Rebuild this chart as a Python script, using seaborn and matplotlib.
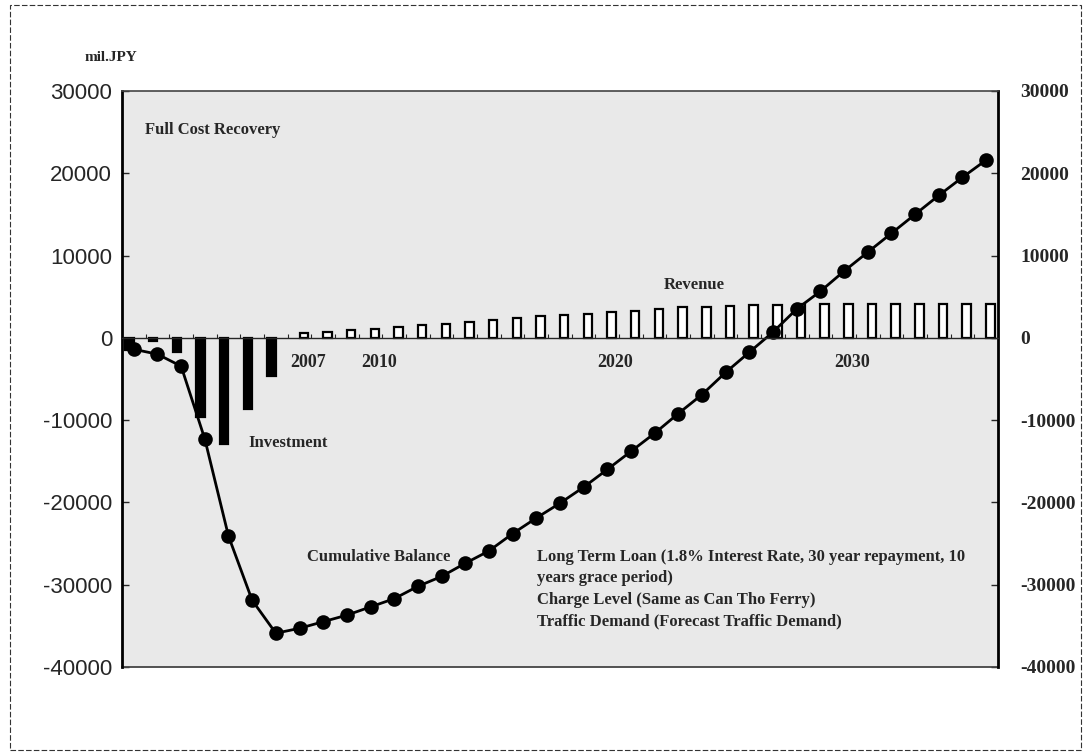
import matplotlib
matplotlib.use("Agg")
import matplotlib.pyplot as plt
import matplotlib.transforms as mtransforms
import numpy as np
import pandas as pd
import seaborn as sns
from matplotlib.patches import Rectangle

# values (mil.JPY)
YEARS = list(range(2000, 2037))
INVESTMENT = [-1500, -400, -1700, -9600, -12900, -8700, -4650]
REVENUE = [600, 750, 900, 1050, 1300, 1550, 1700, 1950, 2200, 2400,
           2600, 2750, 2950, 3100, 3250, 3450, 3700, 3800, 3900, 4000,
           4000, 4100, 4100, 4100, 4100, 4100, 4100, 4100, 4100, 4100]
BALANCE = [-1390, -1990, -3450, -12300, -24100, -31900, -35900, -35300,
           -34500, -33700, -32700, -31700, -30200, -29000, -27400, -25900,
           -23800, -21900, -20100, -18150, -16000, -13800, -11600, -9200,
           -6900, -4200, -1750, 700, 3500, 5650, 8100, 10400, 12700, 15000,
           17300, 19500, 21600]
YEAR_MARKS = ["2007", "2010", "2020", "2030"]
Y_TICKS = [30000, 20000, 10000, 0, -10000, -20000, -30000, -40000]
NOTES = ["Long Term Loan (1.8% Interest Rate, 30 year repayment, 10",
         "years grace period)",
         "Charge Level (Same as Can Tho Ferry)",
         "Traffic Demand (Forecast Traffic Demand)"]

sns.set_style("white")
plt.rcParams["font.family"] = ["Liberation Serif", "DejaVu Serif"]
plt.rcParams["axes.unicode_minus"] = False

labels = [str(y) for y in YEARS]
n_inv = len(INVESTMENT)
bars = pd.DataFrame({
    "year": labels[:n_inv] + labels[n_inv:],
    "series": ["Investment"] * n_inv + ["Revenue"] * len(REVENUE),
    "value": INVESTMENT + REVENUE,
})

fig = plt.figure(figsize=(10.88, 7.55), dpi=100)
ax = fig.add_axes([0.1121, 0.1166, 0.8051, 0.7629])
ax.set_facecolor("#e9e9e9")

sns.barplot(data=bars, x="year", y="value", hue="series", order=labels,
            hue_order=["Investment", "Revenue"], dodge=True,
            palette={"Investment": "black", "Revenue": "white"},
            edgecolor="black", linewidth=1.6, width=0.72, legend=False, ax=ax)
sns.pointplot(x=labels, y=BALANCE, order=labels, color="black", markers="o",
              markersize=9, linewidth=2, errorbar=None, ax=ax)

ax.set_ylim(-40000, 30000)
ax.set_xlim(-0.5, len(YEARS) - 0.5)
ax.set_xlabel("")
ax.set_ylabel("")

# category axis crosses at zero with small boundary ticks
ax.spines["bottom"].set_position(("data", 0))
ax.spines["bottom"].set_linewidth(1.0)
ax.set_xticks(np.arange(len(YEARS) - 1) + 0.5)
ax.set_xticklabels([])
ax.tick_params(axis="x", direction="in", length=3, width=0.8, bottom=True)
ax.plot([0, 1], [0, 0], transform=ax.transAxes, color="#444444", lw=1.3,
        clip_on=False)

for side in ["left", "right"]:
    ax.spines[side].set_linewidth(2.0)
    ax.spines[side].set_color("black")
ax.spines["top"].set_linewidth(1.2)
ax.spines["top"].set_color("#444444")

ax.set_yticks(Y_TICKS)
ax.tick_params(axis="y", direction="in", length=5, width=1, left=True,
               right=True, labelright=True, pad=7)
right_shift = mtransforms.ScaledTranslation(16 / 72, 0, fig.dpi_scale_trans)
for tick in ax.yaxis.get_major_ticks():
    tick.label1.set_fontfamily(["Liberation Sans", "DejaVu Sans"])
    tick.label1.set_fontsize(16)
    tick.label2.set_fontfamily(["Liberation Serif", "DejaVu Serif"])
    tick.label2.set_fontsize(14)
    tick.label2.set_fontweight("bold")
    tick.label2.set_transform(ax.get_yaxis_transform() + right_shift)

for mark in YEAR_MARKS:
    ax.text(labels.index(mark) + 0.35, -3000, mark, ha="center", va="center",
            fontsize=13, fontweight="bold")

txt = dict(fontsize=12, fontweight="bold", transform=ax.transAxes)
ax.text(0.026, 0.932, "Full Cost Recovery", va="center", **txt)
ax.text(0.618, 0.663, "Revenue", va="center", **txt)
ax.text(0.144, 0.389, "Investment", va="center", **txt)
ax.text(0.211, 0.191, "Cumulative Balance", va="center", **txt)
ax.text(0.474, 0.205, "\n".join(NOTES), va="top", linespacing=1.45, **txt)

fig.text(0.078, 0.9245, "mil.JPY", va="center", fontsize=11,
         fontweight="bold")
fig.patches.append(Rectangle((0.009, 0.006), 0.985, 0.988,
                             transform=fig.transFigure, fill=False,
                             edgecolor="#333333", lw=0.8,
                             linestyle=(0, (5, 2))))

fig.savefig("out.png", dpi=100)
